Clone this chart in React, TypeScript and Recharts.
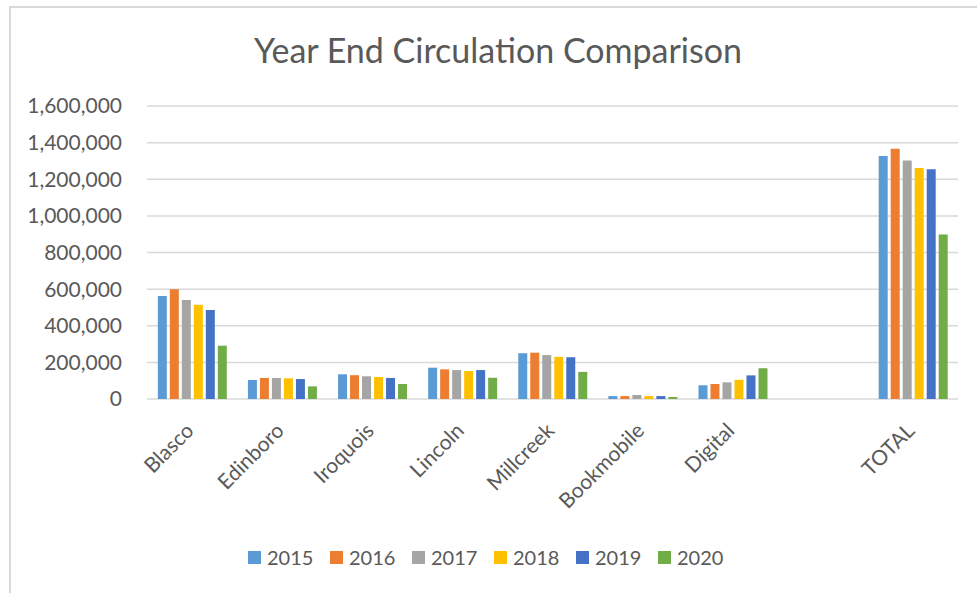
import { BarChart, Bar, XAxis, YAxis, CartesianGrid } from "recharts";

const TEXT_COLOR = "#595959";
const GRID_COLOR = "#d9d9d9";
const FONT = "Lato, 'Noto Sans', sans-serif";

const CATEGORIES = ["Blasco", "Edinboro", "Iroquois", "Lincoln", "Millcreek", "Bookmobile", "Digital", "", "TOTAL"];
const YEARS = ["2015", "2016", "2017", "2018", "2019", "2020"];
const COLORS = ["#5B9BD5", "#ED7D31", "#A5A5A5", "#FFC000", "#4472C4", "#70AD47"];

const Y2015 = [563000, 104000, 135000, 171000, 250000, 16000, 75000, null, 1327000];
const Y2016 = [600000, 115000, 130000, 162000, 253000, 16000, 82000, null, 1367000];
const Y2017 = [541000, 115000, 124000, 158000, 240000, 22000, 91000, null, 1302000];
const Y2018 = [514000, 113000, 120000, 153000, 230000, 16000, 105000, null, 1262000];
const Y2019 = [486000, 109000, 115000, 158000, 228000, 16000, 129000, null, 1255000];
const Y2020 = [291000, 69000, 82000, 116000, 148000, 11000, 168000, null, 898000];

const Y_TICKS = [0, 200000, 400000, 600000, 800000, 1000000, 1200000, 1400000, 1600000];

const SERIES = [Y2015, Y2016, Y2017, Y2018, Y2019, Y2020];

const data = CATEGORIES.map((name, i) => {
  const row: Record<string, string | number | null> = { name };
  YEARS.forEach((y, s) => {
    row[y] = SERIES[s][i];
  });
  return row;
});

function CategoryTick({ x, y, payload }: any) {
  if (!payload.value) return null;
  return (
    <text
      x={x + 3}
      y={y + 33}
      transform={`rotate(-45, ${x + 3}, ${y + 33})`}
      textAnchor="end"
      fill={TEXT_COLOR}
      fontSize={21}
      fontFamily={FONT}
    >
      {payload.value}
    </text>
  );
}

export default function App() {
  return (
    <div
      style={{
        position: "absolute",
        left: 0,
        top: 0,
        width: 977,
        height: 593,
        background: "#fff",
        overflow: "hidden",
      }}
    >
      {/* chart frame, only the top and left edges show */}
      <div
        style={{
          position: "absolute",
          left: 9,
          top: 6,
          width: 1000,
          height: 620,
          border: `2px solid ${GRID_COLOR}`,
        }}
      />
      <div style={{ position: "absolute", left: 0, top: 0 }}>
        <BarChart
          width={977}
          height={593}
          data={data}
          margin={{ top: 106, right: 19, bottom: 0, left: 0 }}
          barCategoryGap="12%"
          barGap={3}
        >
          <CartesianGrid stroke={GRID_COLOR} strokeWidth={1.5} vertical={false} />
          <XAxis
            dataKey="name"
            height={194}
            axisLine={false}
            tickLine={false}
            tickSize={0}
            tickMargin={0}
            interval={0}
            tick={<CategoryTick />}
          />
          <YAxis
            width={147}
            domain={[0, 1600000]}
            ticks={Y_TICKS}
            axisLine={false}
            tickLine={false}
            tickSize={0}
            tickMargin={25}
            tick={{ fill: TEXT_COLOR, fontSize: 21, fontFamily: FONT }}
            tickFormatter={(v: number) => v.toLocaleString("en-US")}
          />
          {YEARS.map((y, i) => (
            <Bar key={y} dataKey={y} fill={COLORS[i]} isAnimationActive={false} />
          ))}
        </BarChart>
      </div>
      <svg
        width={977}
        height={593}
        style={{ position: "absolute", left: 0, top: 0, pointerEvents: "none" }}
      >
        <text x={498} y={63} textAnchor="middle" fill={TEXT_COLOR} fontSize={34} fontFamily={FONT}>
          Year End Circulation Comparison
        </text>
        {YEARS.map((y, i) => {
          const x0 = 248 + i * 82;
          return (
            <g key={y}>
              <rect x={x0} y={551} width={13} height={13} fill={COLORS[i]} />
              <text x={x0 + 19} y={565} fill={TEXT_COLOR} fontSize={20} fontFamily={FONT}>
                {y}
              </text>
            </g>
          );
        })}
      </svg>
    </div>
  );
}
